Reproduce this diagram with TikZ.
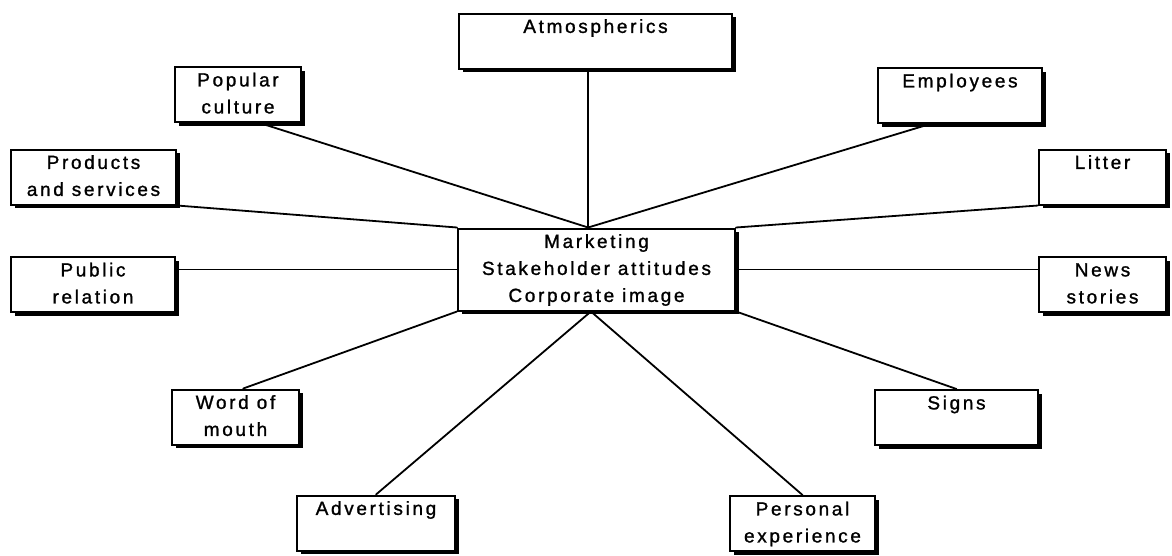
\documentclass[tikz,border=0pt]{standalone}
\usepackage{fontspec}
\newfontfamily\boxfont{Liberation Sans}[LetterSpace=14,FakeBold=1.2]
\usetikzlibrary{calc,shadows}
\begin{document}
\begin{tikzpicture}[x=1pt,y=-1pt,
  box/.style={draw=black, line width=2pt, fill=white, rectangle,
    inner xsep=2pt, inner ysep=0.5pt, align=center,
    font=\boxfont\fontsize{19}{27}\selectfont,
    drop shadow={shadow xshift=3.5pt, shadow yshift=-3.5pt, fill=black, opacity=1}},
  link/.style={line width=1.8pt, line cap=round}]
\fill[white] (0,0) rectangle (1172,555);
\useasboundingbox (0,0) rectangle (1172,555);

\node[box, minimum width=273pt] (atmo) at (595.5,41) {\strut Atmospherics\\\strut};
\node[box, minimum width=126pt] (pop) at (238,94.5) {\strut Popular\\\strut culture};
\node[box, minimum width=164pt] (emp) at (960,95.5) {\strut Employees\\\strut};
\node[box, minimum width=165pt] (prod) at (93.5,177) {\strut Products\\\strut and services};
\node[box, minimum width=127pt] (litter) at (1102.5,177) {\strut Litter\\\strut};
\node[box, minimum width=164pt] (pub) at (93,284.5) {\strut Public\\\strut relation};
\node[box, minimum width=127pt] (news) at (1102.5,284.5) {\strut News\\\strut stories};
\node[box, minimum width=277pt] (center) at (596.5,269.5) {\strut Marketing\\\strut Stakeholder attitudes\\\strut Corporate image};
\node[box, minimum width=127pt] (wom) at (235.5,417) {\strut Word of\\\strut mouth};
\node[box, minimum width=163pt] (signs) at (956.5,417.5) {\strut Signs\\\strut};
\node[box, minimum width=158pt] (adv) at (376,523) {\strut Advertising\\\strut};
\node[box, minimum width=145pt] (pers) at (802.5,523.5) {\strut Personal\\\strut experience};

\coordinate (hub) at ($(center.north west)!0.47!(center.north east)$);
\coordinate (hubb) at ($(center.south west)!0.48!(center.south east)$);

\draw[link] (hub |- atmo.south) -- (hub);
\draw[link] ($(pop.south west)!0.67!(pop.south east)$) -- (hub);
\draw[link] ($(emp.south west)!0.32!(emp.south east)$) -- (hub);
\draw[link] (prod.south east) -- (center.north west);
\draw[link] (litter.south west) -- (center.north east);
\draw[link] (center.west -| pub.east) -- (center.west);
\draw[link] (center.east) -- (center.east -| news.west);
\draw[link] ($(wom.north west)!0.56!(wom.north east)$) -- (center.south west);
\draw[link] (signs.north) -- (center.south east);
\draw[link] (adv.north) -- (hubb);
\draw[link] (pers.north) -- (hubb);
\end{tikzpicture}
\end{document}
